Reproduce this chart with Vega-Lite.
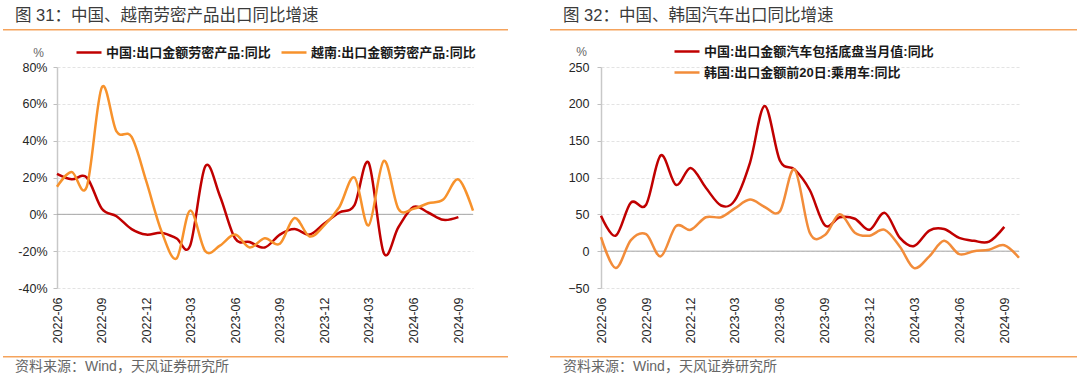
{
  "$schema": "https://vega.github.io/schema/vega-lite/v6.json",
  "padding": {"left": 3, "top": 7, "right": 0, "bottom": 0},
  "background": "white",
  "config": {
    "font": "Liberation Sans, Noto Sans CJK SC",
    "view": {"stroke": null},
    "legend": {"padding": 0},
    "axis": {"labelOverlap": false}
  },
  "resolve": {"scale": {"color": "independent"}, "legend": {"color": "independent"}},
  "datasets": {
    "quarters": [
      {"d": "2022-09"}, {"d": "2022-12"}, {"d": "2023-03"}, {"d": "2023-06"}, {"d": "2023-09"},
      {"d": "2023-12"}, {"d": "2024-03"}, {"d": "2024-06"}, {"d": "2024-09"}
    ],
    "left": [
      {"d": "2022-06", "s": "中国:出口金额劳密产品:同比", "v": 22},
      {"d": "2022-07", "s": "中国:出口金额劳密产品:同比", "v": 19},
      {"d": "2022-08", "s": "中国:出口金额劳密产品:同比", "v": 20},
      {"d": "2022-09", "s": "中国:出口金额劳密产品:同比", "v": 3},
      {"d": "2022-10", "s": "中国:出口金额劳密产品:同比", "v": -1},
      {"d": "2022-11", "s": "中国:出口金额劳密产品:同比", "v": -8},
      {"d": "2022-12", "s": "中国:出口金额劳密产品:同比", "v": -11},
      {"d": "2023-01", "s": "中国:出口金额劳密产品:同比", "v": -10},
      {"d": "2023-02", "s": "中国:出口金额劳密产品:同比", "v": -13},
      {"d": "2023-03", "s": "中国:出口金额劳密产品:同比", "v": -17},
      {"d": "2023-04", "s": "中国:出口金额劳密产品:同比", "v": 26},
      {"d": "2023-05", "s": "中国:出口金额劳密产品:同比", "v": 10},
      {"d": "2023-06", "s": "中国:出口金额劳密产品:同比", "v": -13},
      {"d": "2023-07", "s": "中国:出口金额劳密产品:同比", "v": -15},
      {"d": "2023-08", "s": "中国:出口金额劳密产品:同比", "v": -18},
      {"d": "2023-09", "s": "中国:出口金额劳密产品:同比", "v": -11},
      {"d": "2023-10", "s": "中国:出口金额劳密产品:同比", "v": -8},
      {"d": "2023-11", "s": "中国:出口金额劳密产品:同比", "v": -11},
      {"d": "2023-12", "s": "中国:出口金额劳密产品:同比", "v": -5},
      {"d": "2024-01", "s": "中国:出口金额劳密产品:同比", "v": 1},
      {"d": "2024-02", "s": "中国:出口金额劳密产品:同比", "v": 5},
      {"d": "2024-03", "s": "中国:出口金额劳密产品:同比", "v": 28},
      {"d": "2024-04", "s": "中国:出口金额劳密产品:同比", "v": -21},
      {"d": "2024-05", "s": "中国:出口金额劳密产品:同比", "v": -7},
      {"d": "2024-06", "s": "中国:出口金额劳密产品:同比", "v": 4},
      {"d": "2024-07", "s": "中国:出口金额劳密产品:同比", "v": 1},
      {"d": "2024-08", "s": "中国:出口金额劳密产品:同比", "v": -3},
      {"d": "2024-09", "s": "中国:出口金额劳密产品:同比", "v": -1.5},
      {"d": "2022-06", "s": "越南:出口金额劳密产品:同比", "v": 15},
      {"d": "2022-07", "s": "越南:出口金额劳密产品:同比", "v": 23},
      {"d": "2022-08", "s": "越南:出口金额劳密产品:同比", "v": 15},
      {"d": "2022-09", "s": "越南:出口金额劳密产品:同比", "v": 69},
      {"d": "2022-10", "s": "越南:出口金额劳密产品:同比", "v": 45},
      {"d": "2022-11", "s": "越南:出口金额劳密产品:同比", "v": 42},
      {"d": "2022-12", "s": "越南:出口金额劳密产品:同比", "v": 18},
      {"d": "2023-01", "s": "越南:出口金额劳密产品:同比", "v": -9},
      {"d": "2023-02", "s": "越南:出口金额劳密产品:同比", "v": -24},
      {"d": "2023-03", "s": "越南:出口金额劳密产品:同比", "v": 2},
      {"d": "2023-04", "s": "越南:出口金额劳密产品:同比", "v": -20},
      {"d": "2023-05", "s": "越南:出口金额劳密产品:同比", "v": -17},
      {"d": "2023-06", "s": "越南:出口金额劳密产品:同比", "v": -11},
      {"d": "2023-07", "s": "越南:出口金额劳密产品:同比", "v": -18},
      {"d": "2023-08", "s": "越南:出口金额劳密产品:同比", "v": -13},
      {"d": "2023-09", "s": "越南:出口金额劳密产品:同比", "v": -16},
      {"d": "2023-10", "s": "越南:出口金额劳密产品:同比", "v": -2},
      {"d": "2023-11", "s": "越南:出口金额劳密产品:同比", "v": -12},
      {"d": "2023-12", "s": "越南:出口金额劳密产品:同比", "v": -6},
      {"d": "2024-01", "s": "越南:出口金额劳密产品:同比", "v": 4},
      {"d": "2024-02", "s": "越南:出口金额劳密产品:同比", "v": 20},
      {"d": "2024-03", "s": "越南:出口金额劳密产品:同比", "v": -6},
      {"d": "2024-04", "s": "越南:出口金额劳密产品:同比", "v": 29},
      {"d": "2024-05", "s": "越南:出口金额劳密产品:同比", "v": 3},
      {"d": "2024-06", "s": "越南:出口金额劳密产品:同比", "v": 3},
      {"d": "2024-07", "s": "越南:出口金额劳密产品:同比", "v": 6},
      {"d": "2024-08", "s": "越南:出口金额劳密产品:同比", "v": 8},
      {"d": "2024-09", "s": "越南:出口金额劳密产品:同比", "v": 19},
      {"d": "2024-10", "s": "越南:出口金额劳密产品:同比", "v": 2}
    ],
    "right": [
      {"d": "2022-06", "s": "中国:出口金额汽车包括底盘当月值:同比", "v": 48},
      {"d": "2022-07", "s": "中国:出口金额汽车包括底盘当月值:同比", "v": 21},
      {"d": "2022-08", "s": "中国:出口金额汽车包括底盘当月值:同比", "v": 66},
      {"d": "2022-09", "s": "中国:出口金额汽车包括底盘当月值:同比", "v": 63},
      {"d": "2022-10", "s": "中国:出口金额汽车包括底盘当月值:同比", "v": 130},
      {"d": "2022-11", "s": "中国:出口金额汽车包括底盘当月值:同比", "v": 90},
      {"d": "2022-12", "s": "中国:出口金额汽车包括底盘当月值:同比", "v": 113},
      {"d": "2023-01", "s": "中国:出口金额汽车包括底盘当月值:同比", "v": 86},
      {"d": "2023-02", "s": "中国:出口金额汽车包括底盘当月值:同比", "v": 62},
      {"d": "2023-03", "s": "中国:出口金额汽车包括底盘当月值:同比", "v": 69},
      {"d": "2023-04", "s": "中国:出口金额汽车包括底盘当月值:同比", "v": 120},
      {"d": "2023-05", "s": "中国:出口金额汽车包括底盘当月值:同比", "v": 197},
      {"d": "2023-06", "s": "中国:出口金额汽车包括底盘当月值:同比", "v": 123},
      {"d": "2023-07", "s": "中国:出口金额汽车包括底盘当月值:同比", "v": 111},
      {"d": "2023-08", "s": "中国:出口金额汽车包括底盘当月值:同比", "v": 83},
      {"d": "2023-09", "s": "中国:出口金额汽车包括底盘当月值:同比", "v": 35},
      {"d": "2023-10", "s": "中国:出口金额汽车包括底盘当月值:同比", "v": 46},
      {"d": "2023-11", "s": "中国:出口金额汽车包括底盘当月值:同比", "v": 44},
      {"d": "2023-12", "s": "中国:出口金额汽车包括底盘当月值:同比", "v": 29},
      {"d": "2024-01", "s": "中国:出口金额汽车包括底盘当月值:同比", "v": 52},
      {"d": "2024-02", "s": "中国:出口金额汽车包括底盘当月值:同比", "v": 18},
      {"d": "2024-03", "s": "中国:出口金额汽车包括底盘当月值:同比", "v": 7},
      {"d": "2024-04", "s": "中国:出口金额汽车包括底盘当月值:同比", "v": 28},
      {"d": "2024-05", "s": "中国:出口金额汽车包括底盘当月值:同比", "v": 30},
      {"d": "2024-06", "s": "中国:出口金额汽车包括底盘当月值:同比", "v": 18},
      {"d": "2024-07", "s": "中国:出口金额汽车包括底盘当月值:同比", "v": 14},
      {"d": "2024-08", "s": "中国:出口金额汽车包括底盘当月值:同比", "v": 13},
      {"d": "2024-09", "s": "中国:出口金额汽车包括底盘当月值:同比", "v": 33},
      {"d": "2022-06", "s": "韩国:出口金额前20日:乘用车:同比", "v": 19},
      {"d": "2022-07", "s": "韩国:出口金额前20日:乘用车:同比", "v": -23},
      {"d": "2022-08", "s": "韩国:出口金额前20日:乘用车:同比", "v": 15},
      {"d": "2022-09", "s": "韩国:出口金额前20日:乘用车:同比", "v": 23},
      {"d": "2022-10", "s": "韩国:出口金额前20日:乘用车:同比", "v": -7},
      {"d": "2022-11", "s": "韩国:出口金额前20日:乘用车:同比", "v": 34},
      {"d": "2022-12", "s": "韩国:出口金额前20日:乘用车:同比", "v": 29},
      {"d": "2023-01", "s": "韩国:出口金额前20日:乘用车:同比", "v": 46},
      {"d": "2023-02", "s": "韩国:出口金额前20日:乘用车:同比", "v": 46},
      {"d": "2023-03", "s": "韩国:出口金额前20日:乘用车:同比", "v": 58},
      {"d": "2023-04", "s": "韩国:出口金额前20日:乘用车:同比", "v": 70},
      {"d": "2023-05", "s": "韩国:出口金额前20日:乘用车:同比", "v": 60},
      {"d": "2023-06", "s": "韩国:出口金额前20日:乘用车:同比", "v": 54},
      {"d": "2023-07", "s": "韩国:出口金额前20日:乘用车:同比", "v": 111},
      {"d": "2023-08", "s": "韩国:出口金额前20日:乘用车:同比", "v": 25},
      {"d": "2023-09", "s": "韩国:出口金额前20日:乘用车:同比", "v": 22},
      {"d": "2023-10", "s": "韩国:出口金额前20日:乘用车:同比", "v": 50},
      {"d": "2023-11", "s": "韩国:出口金额前20日:乘用车:同比", "v": 25},
      {"d": "2023-12", "s": "韩国:出口金额前20日:乘用车:同比", "v": 21},
      {"d": "2024-01", "s": "韩国:出口金额前20日:乘用车:同比", "v": 29},
      {"d": "2024-02", "s": "韩国:出口金额前20日:乘用车:同比", "v": 6},
      {"d": "2024-03", "s": "韩国:出口金额前20日:乘用车:同比", "v": -23},
      {"d": "2024-04", "s": "韩国:出口金额前20日:乘用车:同比", "v": -7},
      {"d": "2024-05", "s": "韩国:出口金额前20日:乘用车:同比", "v": 14},
      {"d": "2024-06", "s": "韩国:出口金额前20日:乘用车:同比", "v": -4},
      {"d": "2024-07", "s": "韩国:出口金额前20日:乘用车:同比", "v": 0},
      {"d": "2024-08", "s": "韩国:出口金额前20日:乘用车:同比", "v": 2},
      {"d": "2024-09", "s": "韩国:出口金额前20日:乘用车:同比", "v": 8},
      {"d": "2024-10", "s": "韩国:出口金额前20日:乘用车:同比", "v": -9}
    ]
  },
  "spacing": 6,
  "vconcat": [
    {
      "spacing": 42,
      "hconcat": [
        {
          "width": 451, "height": 1.5,
          "data": {"values": [{}]},
          "mark": {"type": "rect", "color": "#F5A35C", "clip": false},
          "encoding": {
            "x": {"datum": -54, "type": "quantitative", "scale": {"domain": [0, 451], "nice": false, "zero": false}, "axis": null},
            "x2": {"datum": 451}
          },
          "title": {"text": "图 31：中国、越南劳密产品出口同比增速", "anchor": "start", "dx": 12, "offset": 5, "baseline": "top", "fontSize": 16.5, "fontWeight": "normal", "color": "#3a3a3a"}
        },
        {
          "width": 474, "height": 1.5,
          "data": {"values": [{}]},
          "mark": {"type": "rect", "color": "#F5A35C", "clip": false},
          "encoding": {
            "x": {"datum": -53, "type": "quantitative", "scale": {"domain": [0, 474], "nice": false, "zero": false}, "axis": null},
            "x2": {"datum": 474}
          },
          "title": {"text": "图 32：中国、韩国汽车出口同比增速", "anchor": "start", "dx": 13, "offset": 5, "baseline": "top", "fontSize": 16.5, "fontWeight": "normal", "color": "#3a3a3a"}
        }
      ]
    },
    {
      "spacing": 70,
      "resolve": {"scale": {"color": "independent"}, "legend": {"color": "independent"}},
      "hconcat": [
        {
          "width": 416, "height": 221,
          "layer": [
            {
              "data": {"values": [{}]},
              "mark": {"type": "rule", "color": "#a6a6a6", "strokeWidth": 1},
              "encoding": {"y": {
                "datum": 0, "type": "quantitative",
                "scale": {"domain": [-40, 80], "nice": false, "zero": false},
                "axis": {
                  "values": [-40, -20, 0, 20, 40, 60, 80], "labelExpr": "datum.value + '%'", "labelOverlap": false,
                  "labelFontSize": 12.5, "labelColor": "#262626", "tickSize": 4, "tickColor": "#bfbfbf", "labelPadding": 6,
                  "domainColor": "#c8c8c8", "domainWidth": 1.5, "grid": true, "gridColor": "#e3e3e3", "gridDash": [3, 2],
                  "title": "%", "titleAngle": 0, "titleX": -19, "titleY": -15, "titleAlign": "center", "titleBaseline": "middle",
                  "titleFontSize": 12, "titleFontWeight": "normal", "titleColor": "#666666"
                }
              }}
            },
            {
              "data": {"name": "quarters", "format": {"parse": {"d": "date:'%Y-%m'"}}},
              "mark": {"type": "tick", "orient": "vertical", "color": "#a6a6a6", "size": 5, "thickness": 1, "yOffset": 2.5},
              "encoding": {
                "x": {
                  "field": "d", "type": "temporal",
                  "scale": {"domain": [{"year": 2022, "month": 6, "date": 1}, {"year": 2024, "month": 10, "date": 1}]},
                  "axis": {
                    "values": [{"year": 2022, "month": 6, "date": 1}, {"year": 2022, "month": 9, "date": 1}, {"year": 2022, "month": 12, "date": 1}, {"year": 2023, "month": 3, "date": 1}, {"year": 2023, "month": 6, "date": 1}, {"year": 2023, "month": 9, "date": 1}, {"year": 2023, "month": 12, "date": 1}, {"year": 2024, "month": 3, "date": 1}, {"year": 2024, "month": 6, "date": 1}, {"year": 2024, "month": 9, "date": 1}],
                    "format": "%Y-%m", "formatType": "time", "labelOverlap": false,
                    "labelAngle": -90, "labelFontSize": 12.5, "labelColor": "#262626",
                    "ticks": false, "tickSize": 0, "domain": false, "grid": false, "labelPadding": 9,
                    "title": " ", "titleX": -54, "titleY": 61.5, "titleAlign": "left", "titleBaseline": "bottom", "titleFontSize": 10
                  }
                },
                "y": {
                  "datum": 0, "type": "quantitative",
                  "scale": {"domain": [-40, 80], "nice": false, "zero": false},
                  "axis": {
                    "values": [-40, -20, 0, 20, 40, 60, 80], "labelExpr": "datum.value + '%'", "labelOverlap": false,
                    "labelFontSize": 12.5, "labelColor": "#262626", "tickSize": 4, "tickColor": "#bfbfbf", "labelPadding": 6,
                    "domainColor": "#c8c8c8", "domainWidth": 1.5, "grid": true, "gridColor": "#e3e3e3", "gridDash": [3, 2],
                    "title": "%", "titleAngle": 0, "titleX": -19, "titleY": -15, "titleAlign": "center", "titleBaseline": "middle",
                    "titleFontSize": 12, "titleFontWeight": "normal", "titleColor": "#666666"
                  }
                }
              }
            },
            {
              "data": {"name": "left", "format": {"parse": {"d": "date:'%Y-%m'"}}},
              "mark": {"type": "line", "interpolate": "cardinal", "strokeWidth": 2.5},
              "encoding": {
                "x": {
                  "field": "d", "type": "temporal",
                  "scale": {"domain": [{"year": 2022, "month": 6, "date": 1}, {"year": 2024, "month": 10, "date": 1}]},
                  "axis": {
                    "values": [{"year": 2022, "month": 6, "date": 1}, {"year": 2022, "month": 9, "date": 1}, {"year": 2022, "month": 12, "date": 1}, {"year": 2023, "month": 3, "date": 1}, {"year": 2023, "month": 6, "date": 1}, {"year": 2023, "month": 9, "date": 1}, {"year": 2023, "month": 12, "date": 1}, {"year": 2024, "month": 3, "date": 1}, {"year": 2024, "month": 6, "date": 1}, {"year": 2024, "month": 9, "date": 1}],
                    "format": "%Y-%m", "formatType": "time", "labelOverlap": false,
                    "labelAngle": -90, "labelFontSize": 12.5, "labelColor": "#262626",
                    "ticks": false, "tickSize": 0, "domain": false, "grid": false, "labelPadding": 9,
                    "title": " ", "titleX": -54, "titleY": 61.5, "titleAlign": "left", "titleBaseline": "bottom", "titleFontSize": 10
                  }
                },
                "y": {
                  "field": "v", "type": "quantitative",
                  "scale": {"domain": [-40, 80], "nice": false, "zero": false},
                  "axis": {
                    "values": [-40, -20, 0, 20, 40, 60, 80], "labelExpr": "datum.value + '%'", "labelOverlap": false,
                    "labelFontSize": 12.5, "labelColor": "#262626", "tickSize": 4, "tickColor": "#bfbfbf", "labelPadding": 6,
                    "domainColor": "#c8c8c8", "domainWidth": 1.5, "grid": true, "gridColor": "#e3e3e3", "gridDash": [3, 2],
                    "title": "%", "titleAngle": 0, "titleX": -19, "titleY": -15, "titleAlign": "center", "titleBaseline": "middle",
                    "titleFontSize": 12, "titleFontWeight": "normal", "titleColor": "#666666"
                  }
                },
                "color": {
                  "field": "s", "type": "nominal",
                  "scale": {"domain": ["中国:出口金额劳密产品:同比", "越南:出口金额劳密产品:同比"], "range": ["#C00000", "#F7922C"]},
                  "legend": {
                    "orient": "none", "legendX": 18, "legendY": -28.5, "direction": "horizontal", "columns": 2, "title": null,
                    "symbolType": "stroke", "symbolSize": 625, "symbolStrokeWidth": 2.5,
                    "labelFontSize": 13, "labelFontWeight": "bold", "labelColor": "#1a1a1a", "labelLimit": 400,
                    "columnPadding": 5, "labelOffset": 3
                  }
                }
              }
            }
          ]
        },
        {
          "width": 418, "height": 221,
          "layer": [
            {
              "data": {"values": [{}]},
              "mark": {"type": "rule", "color": "#a6a6a6", "strokeWidth": 1},
              "encoding": {"y": {
                "datum": 0, "type": "quantitative",
                "scale": {"domain": [-50, 250], "nice": false, "zero": false},
                "axis": {
                  "values": [-50, 0, 50, 100, 150, 200, 250], "labelOverlap": false,
                  "labelFontSize": 12.5, "labelColor": "#262626", "tickSize": 4, "tickColor": "#bfbfbf", "labelPadding": 8,
                  "domainColor": "#c8c8c8", "domainWidth": 1.5, "grid": true, "gridColor": "#e3e3e3", "gridDash": [3, 2],
                  "title": "%", "titleAngle": 0, "titleX": -20, "titleY": -16, "titleAlign": "center", "titleBaseline": "middle",
                  "titleFontSize": 12, "titleFontWeight": "normal", "titleColor": "#666666"
                }
              }}
            },
            {
              "data": {"name": "quarters", "format": {"parse": {"d": "date:'%Y-%m'"}}},
              "mark": {"type": "tick", "orient": "vertical", "color": "#a6a6a6", "size": 5, "thickness": 1, "yOffset": 2.5},
              "encoding": {
                "x": {
                  "field": "d", "type": "temporal",
                  "scale": {"domain": [{"year": 2022, "month": 6, "date": 1}, {"year": 2024, "month": 10, "date": 1}]},
                  "axis": {
                    "values": [{"year": 2022, "month": 6, "date": 1}, {"year": 2022, "month": 9, "date": 1}, {"year": 2022, "month": 12, "date": 1}, {"year": 2023, "month": 3, "date": 1}, {"year": 2023, "month": 6, "date": 1}, {"year": 2023, "month": 9, "date": 1}, {"year": 2023, "month": 12, "date": 1}, {"year": 2024, "month": 3, "date": 1}, {"year": 2024, "month": 6, "date": 1}, {"year": 2024, "month": 9, "date": 1}],
                    "format": "%Y-%m", "formatType": "time", "labelOverlap": false,
                    "labelAngle": -90, "labelFontSize": 12.5, "labelColor": "#262626",
                    "ticks": false, "tickSize": 0, "domain": false, "grid": false, "labelPadding": 9,
                    "title": " ", "titleX": -53, "titleY": 61.5, "titleAlign": "left", "titleBaseline": "bottom", "titleFontSize": 10
                  }
                },
                "y": {
                  "datum": 0, "type": "quantitative",
                  "scale": {"domain": [-50, 250], "nice": false, "zero": false},
                  "axis": {
                    "values": [-50, 0, 50, 100, 150, 200, 250], "labelOverlap": false,
                    "labelFontSize": 12.5, "labelColor": "#262626", "tickSize": 4, "tickColor": "#bfbfbf", "labelPadding": 8,
                    "domainColor": "#c8c8c8", "domainWidth": 1.5, "grid": true, "gridColor": "#e3e3e3", "gridDash": [3, 2],
                    "title": "%", "titleAngle": 0, "titleX": -20, "titleY": -16, "titleAlign": "center", "titleBaseline": "middle",
                    "titleFontSize": 12, "titleFontWeight": "normal", "titleColor": "#666666"
                  }
                }
              }
            },
            {
              "data": {"name": "right", "format": {"parse": {"d": "date:'%Y-%m'"}}},
              "mark": {"type": "line", "interpolate": "cardinal", "strokeWidth": 2.5},
              "encoding": {
                "x": {
                  "field": "d", "type": "temporal",
                  "scale": {"domain": [{"year": 2022, "month": 6, "date": 1}, {"year": 2024, "month": 10, "date": 1}]},
                  "axis": {
                    "values": [{"year": 2022, "month": 6, "date": 1}, {"year": 2022, "month": 9, "date": 1}, {"year": 2022, "month": 12, "date": 1}, {"year": 2023, "month": 3, "date": 1}, {"year": 2023, "month": 6, "date": 1}, {"year": 2023, "month": 9, "date": 1}, {"year": 2023, "month": 12, "date": 1}, {"year": 2024, "month": 3, "date": 1}, {"year": 2024, "month": 6, "date": 1}, {"year": 2024, "month": 9, "date": 1}],
                    "format": "%Y-%m", "formatType": "time", "labelOverlap": false,
                    "labelAngle": -90, "labelFontSize": 12.5, "labelColor": "#262626",
                    "ticks": false, "tickSize": 0, "domain": false, "grid": false, "labelPadding": 9,
                    "title": " ", "titleX": -53, "titleY": 61.5, "titleAlign": "left", "titleBaseline": "bottom", "titleFontSize": 10
                  }
                },
                "y": {
                  "field": "v", "type": "quantitative",
                  "scale": {"domain": [-50, 250], "nice": false, "zero": false},
                  "axis": {
                    "values": [-50, 0, 50, 100, 150, 200, 250], "labelOverlap": false,
                    "labelFontSize": 12.5, "labelColor": "#262626", "tickSize": 4, "tickColor": "#bfbfbf", "labelPadding": 8,
                    "domainColor": "#c8c8c8", "domainWidth": 1.5, "grid": true, "gridColor": "#e3e3e3", "gridDash": [3, 2],
                    "title": "%", "titleAngle": 0, "titleX": -20, "titleY": -16, "titleAlign": "center", "titleBaseline": "middle",
                    "titleFontSize": 12, "titleFontWeight": "normal", "titleColor": "#666666"
                  }
                },
                "color": {
                  "field": "s", "type": "nominal",
                  "scale": {"domain": ["中国:出口金额汽车包括底盘当月值:同比", "韩国:出口金额前20日:乘用车:同比"], "range": ["#C00000", "#F28C3A"]},
                  "legend": {
                    "orient": "none", "legendX": 72, "legendY": -29.5, "direction": "vertical", "title": null,
                    "symbolType": "stroke", "symbolSize": 625, "symbolStrokeWidth": 2.5,
                    "labelFontSize": 13, "labelFontWeight": "bold", "labelColor": "#1a1a1a", "labelLimit": 400,
                    "rowPadding": 0, "labelOffset": 3
                  }
                }
              }
            }
          ]
        }
      ]
    },
    {
      "spacing": 42,
      "hconcat": [
        {
          "width": 451, "height": 1.5,
          "data": {"values": [{}]},
          "mark": {"type": "rect", "color": "#F5A35C", "clip": false},
          "encoding": {
            "x": {"datum": -54, "type": "quantitative", "scale": {"domain": [0, 451], "nice": false, "zero": false}, "axis": null},
            "x2": {"datum": 451}
          },
          "title": {"text": "资料来源：Wind，天风证券研究所", "orient": "bottom", "anchor": "start", "dx": 12, "offset": 2, "baseline": "top", "fontSize": 14, "fontWeight": "normal", "color": "#666666"}
        },
        {
          "width": 474, "height": 1.5,
          "data": {"values": [{}]},
          "mark": {"type": "rect", "color": "#F5A35C", "clip": false},
          "encoding": {
            "x": {"datum": -53, "type": "quantitative", "scale": {"domain": [0, 474], "nice": false, "zero": false}, "axis": null},
            "x2": {"datum": 474}
          },
          "title": {"text": "资料来源：Wind，天风证券研究所", "orient": "bottom", "anchor": "start", "dx": 13, "offset": 2, "baseline": "top", "fontSize": 14, "fontWeight": "normal", "color": "#666666"}
        }
      ]
    }
  ]
}
